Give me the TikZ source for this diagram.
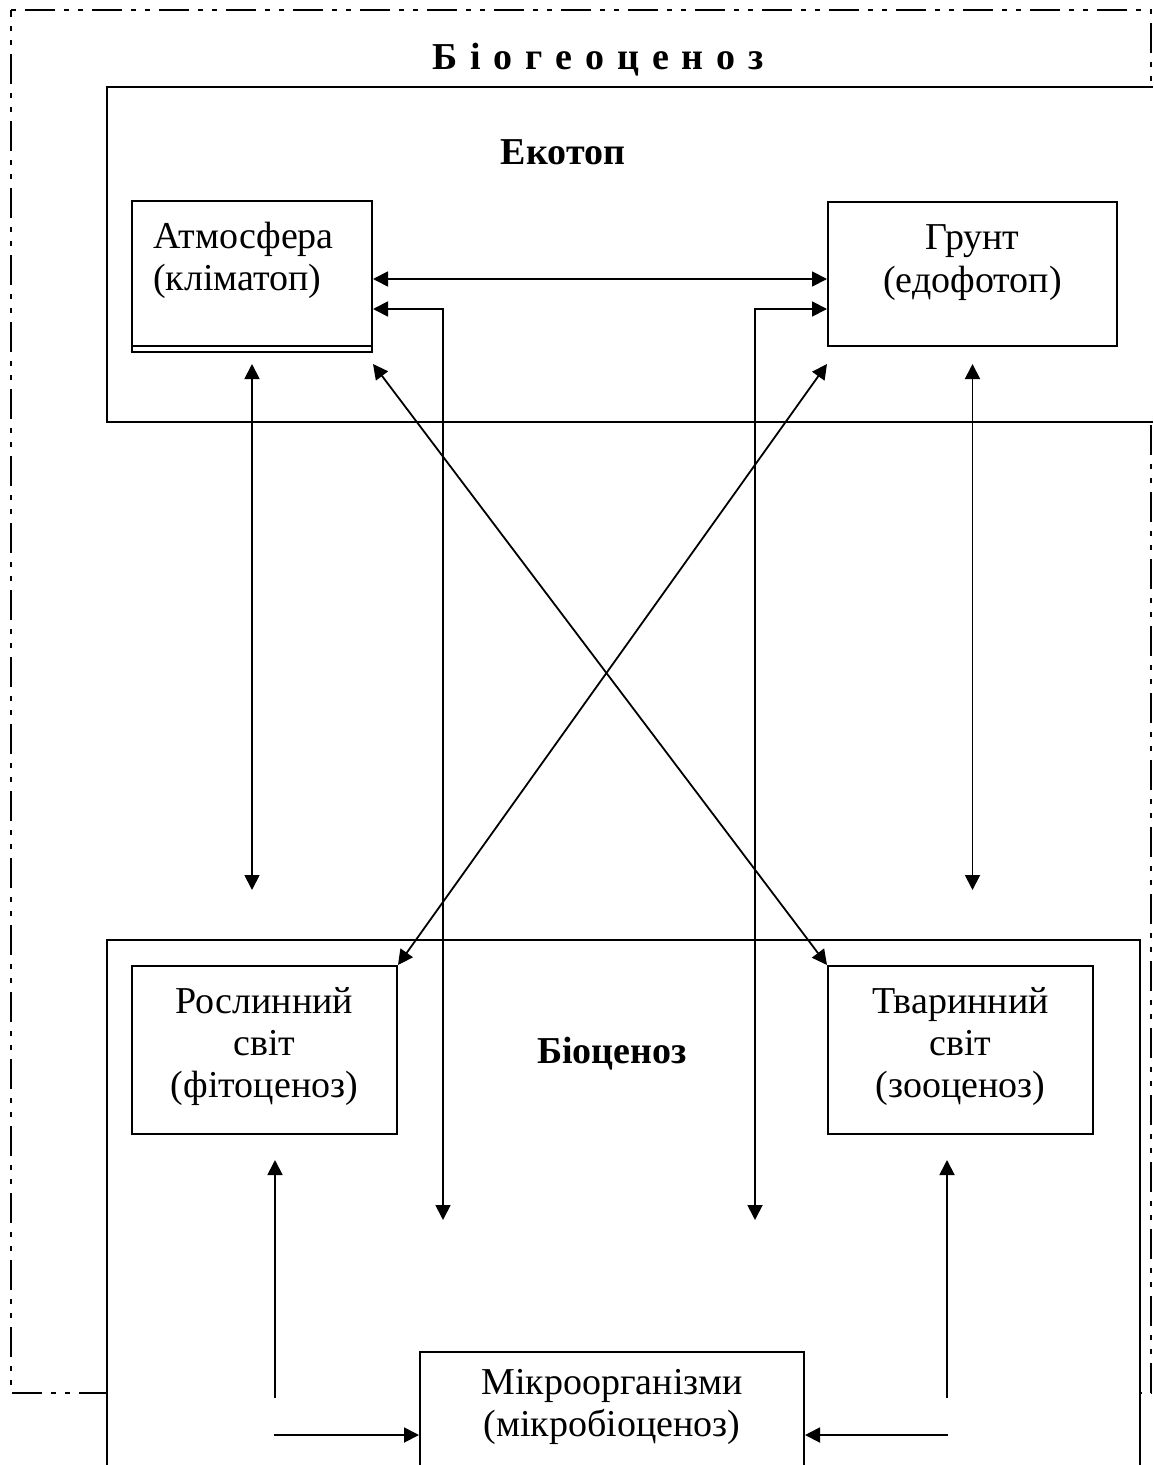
\documentclass[tikz,border=0pt]{standalone}
\usepackage{fontspec}
\setmainfont{Liberation Serif}
\usepackage{tikz}
\usetikzlibrary{arrows.meta}

\begin{document}
\begin{tikzpicture}[x=0.5pt, y=-0.5pt,
    frame/.style={line width=1pt},
    outline/.style={line width=1pt, dash pattern=on 2.5pt off 4.5pt on 15pt off 4.5pt on 2.5pt off 4.5pt},
    box/.style={draw, line width=1pt, fill=white, inner xsep=0pt, inner ysep=0pt, anchor=north west, align=center, font=\fontsize{19}{21}\selectfont},
    tag/.style={anchor=base, inner sep=0pt, font=\bfseries\fontsize{19}{21}\selectfont},
    link/.style={line width=0.9pt, {Triangle[length=7.5pt,width=7.5pt]}-{Triangle[length=7.5pt,width=7.5pt]}},
    feed/.style={line width=0.9pt, -{Triangle[length=7.5pt,width=7.5pt]}}
]
\useasboundingbox (0,0) rectangle (1153,1465);

% Outer dash-dot frame of the whole biogeocenosis
\draw[outline] (11,10) -- (1151,10) -- (1151,1393) -- (11,1393) -- cycle;
\node[tag, anchor=base west, font=\bfseries\fontsize{19}{21}\selectfont\addfontfeature{LetterSpace=34}] (title) at (432,70) {Біогеоценоз};

% Ecotope frame (runs off the right edge)
\fill[white] (107,87) rectangle (1153,422);
\draw[frame] (1153,87) -- (107,87) -- (107,422) -- (1153,422);
\node[tag] (ecotop) at (563,165) {Екотоп};

% Biocenosis frame (runs off the bottom edge)
\fill[white] (107,940) rectangle (1140,1465);
\draw[frame] (107,1465) -- (107,940) -- (1140,940) -- (1140,1465);
\node[tag] (biocenoz) at (612,1063) {Біоценоз};

% Ecotope parts
\node[box, align=left, text width=99pt, inner xsep=10.5pt, text height=24pt, text depth=51.5pt] (atmo) at (131,200) {Атмосфера\\(кліматоп)};
\draw[frame] ([yshift=3.5pt]atmo.south west) -- ([yshift=3.5pt]atmo.south east);
\node[box, text width=144.5pt, text height=24pt, text depth=48pt] (grunt) at (827,201) {Грунт\\(едофотоп)};

% Biocenosis parts
\node[box, text width=132.5pt, text height=23.5pt, text depth=60.5pt] (roslyn) at (131,965) {Рослинний\\світ\\(фітоценоз)};
\node[box, text width=132.5pt, text height=23.5pt, text depth=60.5pt] (tvaryn) at (827,965) {Тваринний\\світ\\(зооценоз)};
\node[box, text width=192pt, text height=21pt, text depth=48.5pt] (micro) at (419,1351) {Мікроорганізми\\(мікробіоценоз)};

% Free ends of the connectors
\coordinate (row1) at (0,279);
\coordinate (row2) at (0,309);
\coordinate (hubL) at (443,1220);
\coordinate (hubR) at (755,1220);
\coordinate (atmoLow) at (251,890);
\coordinate (gruntLow) at (970,890);
\coordinate (plantFoot) at (275,1398);
\coordinate (plantHead) at (275,1160);
\coordinate (animalFoot) at (947,1398);
\coordinate (animalHead) at (947,1160);
\coordinate (plantFeed) at (274,1435);
\coordinate (animalFeed) at (948,1435);

% Links inside the ecotope and down to the biocenosis
\draw[link] (atmo.east |- row1) -- (grunt.west |- row1);
\draw[link] (atmo.east |- row2) -| (hubL);
\draw[link] (grunt.west |- row2) -| (hubR);
\draw[link] ([yshift=-5.5pt]atmo.south) -- (atmo.south |- atmoLow);
\draw[link] ([yshift=-8.5pt]grunt.south) -- (grunt.south |- gruntLow);
\draw[link] ([yshift=-5.5pt]atmo.south east) -- (tvaryn.north west);
\draw[link] ([yshift=-8.5pt]grunt.south west) -- (roslyn.north east);

% Microorganisms
\draw[feed] (plantFoot) -- (plantHead);
\draw[feed] (animalFoot) -- (animalHead);
\draw[feed] (plantFeed) -- (plantFeed -| micro.west);
\draw[feed] (animalFeed) -- (animalFeed -| micro.east);

\end{tikzpicture}
\end{document}
